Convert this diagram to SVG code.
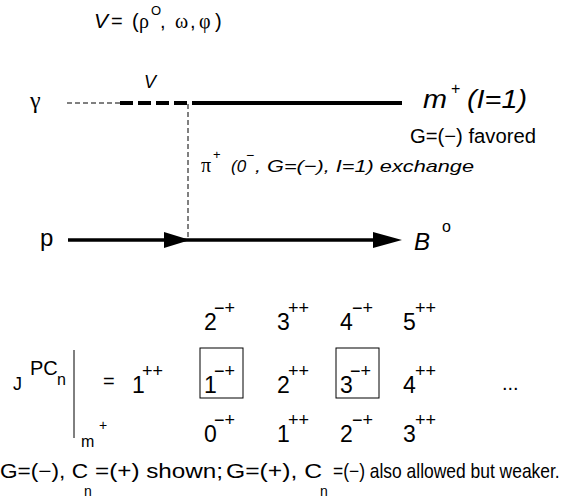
<svg xmlns="http://www.w3.org/2000/svg" width="567" height="503" viewBox="0 0 567 503">
<defs>
<style>
text { font-family: "Liberation Sans", Arial, sans-serif; fill: #000; }
.gr { font-family: "Liberation Serif", "Times New Roman", serif; }
.it { font-style: italic; }
.thin { stroke: #000; stroke-width: 1; fill: none; stroke-dasharray: 5 3; }
.thick { stroke: #000; stroke-width: 4; fill: none; }
.box { stroke: #000; stroke-width: 1; fill: none; }
.d { font-size: 23px; }
.s { font-size: 18px; }
</style>
</defs>
<rect width="567" height="503" fill="#fff"/>

<g id="formula">
<text x="94" y="28" font-size="21" class="it">V</text>
<text x="111" y="28" font-size="20">=</text>
<text x="132" y="28" font-size="20">(</text>
<text x="139" y="28" font-size="20" class="gr">ρ</text>
<text x="151" y="15" font-size="13">O</text>
<text x="160" y="28" font-size="20">,</text>
<text x="175" y="28" font-size="20" class="gr">ω</text>
<text x="190" y="28" font-size="20">,</text>
<text x="199" y="28" font-size="20" class="gr">φ</text>
<text x="215" y="28" font-size="20">)</text>
</g>

<g id="connectors">
<line class="thin" x1="67" y1="103" x2="120" y2="103"/>
<line class="thick" x1="120" y1="103" x2="188" y2="103" stroke-dasharray="13 5"/>
<line class="thick" x1="192" y1="103" x2="402" y2="103"/>
<line class="thin" x1="188" y1="104" x2="188" y2="240" stroke-dasharray="5 4"/>
<line x1="68" y1="240" x2="395" y2="240" stroke="#000" stroke-width="3.5"/>
<polygon points="164,232 190,240 164,248" fill="#000"/>
<polygon points="373,232 402,240 373,248" fill="#000"/>
</g>

<g id="gamma"><text x="30" y="108" font-size="24" class="gr">γ</text></g>
<g id="vlabel"><text x="144" y="88" font-size="18" class="it">V</text></g>
<g id="meson">
<text x="423" y="108" font-size="25" class="it" textLength="24" lengthAdjust="spacingAndGlyphs">m</text>
<text x="451" y="94" font-size="16">+</text>
<text x="467" y="108" font-size="25" class="it" textLength="60" lengthAdjust="spacingAndGlyphs">(I=1)</text>
<text x="410" y="143" font-size="20" textLength="126" lengthAdjust="spacingAndGlyphs">G=(−) favored</text>
</g>
<g id="exchange">
<text x="201" y="172" font-size="20" class="gr">π</text>
<text x="213" y="159" font-size="13">+</text>
<text x="231" y="172" font-size="17" class="it">(0</text>
<text x="246" y="160" font-size="14">−</text>
<text x="255" y="172" font-size="17" class="it" textLength="219" lengthAdjust="spacingAndGlyphs">, G=(−), I=1) exchange</text>
</g>
<g id="proton"><text x="40" y="246" font-size="24">p</text></g>
<g id="baryon">
<text x="414" y="250" font-size="24" class="it">B</text>
<text x="442" y="232" font-size="16">o</text>
</g>

<g id="spectrum">
<text x="13" y="390" font-size="18">J</text>
<text x="30" y="375" font-size="20">PC</text>
<text x="57" y="385" font-size="16">n</text>
<line class="box" x1="74" y1="350" x2="74" y2="438"/>
<text x="81" y="447" font-size="16">m</text>
<text x="99" y="430" font-size="14">+</text>
<text x="103" y="388" font-size="20">=</text>

<text class="d" x="132" y="393">1</text><text class="s" x="142" y="377">++</text>

<text class="d" x="204" y="330">2</text><text class="s" x="214" y="314">−+</text>
<text class="d" x="204" y="393">1</text><text class="s" x="214" y="377">−+</text>
<text class="d" x="204" y="442">0</text><text class="s" x="214" y="426">−+</text>
<rect class="box" x="200" y="348" width="43" height="50"/>

<text class="d" x="277" y="330">3</text><text class="s" x="288" y="314">++</text>
<text class="d" x="277" y="393">2</text><text class="s" x="288" y="377">++</text>
<text class="d" x="277" y="442">1</text><text class="s" x="288" y="426">++</text>

<text class="d" x="340" y="330">4</text><text class="s" x="352" y="314">−+</text>
<text class="d" x="340" y="393">3</text><text class="s" x="350" y="377">−+</text>
<text class="d" x="340" y="442">2</text><text class="s" x="352" y="426">−+</text>
<rect class="box" x="336" y="348" width="43" height="50"/>

<text class="d" x="403" y="330">5</text><text class="s" x="415" y="314">++</text>
<text class="d" x="403" y="393">4</text><text class="s" x="415" y="377">++</text>
<text class="d" x="403" y="442">3</text><text class="s" x="415" y="426">++</text>

<text x="502" y="390" font-size="20">...</text>
</g>

<g id="note">
<text x="0" y="478" font-size="20" textLength="88" lengthAdjust="spacingAndGlyphs">G=(−), C</text>
<text x="84" y="496" font-size="14">n</text>
<text x="95" y="478" font-size="20" textLength="128" lengthAdjust="spacingAndGlyphs">=(+) shown;</text>
<text x="226" y="478" font-size="20" textLength="96" lengthAdjust="spacingAndGlyphs">G=(+), C</text>
<text x="320" y="496" font-size="14">n</text>
<text transform="translate(333,478) scale(0.872,1)" font-size="20">=(−) also allowed but weaker.</text>
</g>
</svg>
